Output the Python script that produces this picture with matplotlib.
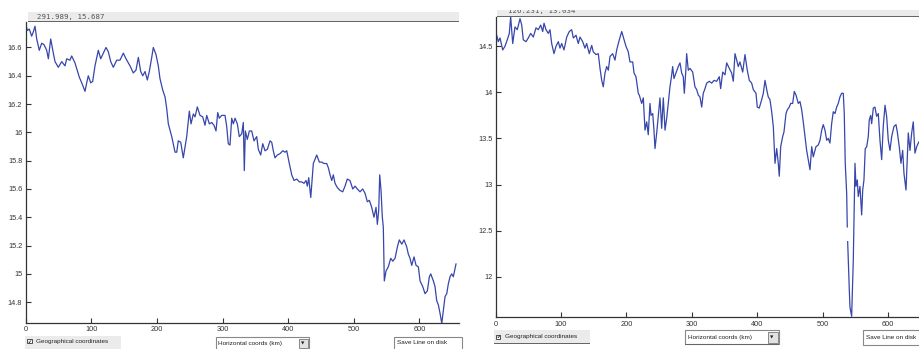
import numpy as np
import matplotlib
matplotlib.use("Agg")
import matplotlib.pyplot as plt
from matplotlib.patches import Rectangle

plt.rcParams['font.family'] = ['Liberation Sans', 'DejaVu Sans']

# profile 1: distance along track (km) and value
left_km = [0, 2.4, 5.5, 9.1, 11.6, 14.2, 16.8, 20.7, 24.4, 27.9, 32.0, 34.5, 38.1, 42.1, 44.7,
           49.7, 54.9, 59.9, 62.5, 67.5, 70.1, 75.2, 81.7, 85.4, 90.4, 93.0, 95.4, 99.1, 102.1,
           105.6, 110.7, 114.3, 118.3, 122.4, 125.9, 129.6, 133.5, 138.7, 143.7, 148.8, 152.9,
           159.0, 164.0, 168.1, 171.7, 175.3, 178.4, 181.9, 185.4, 188.4, 192.1, 194.5, 198.6,
           202.1, 204.7, 208.8, 212.4, 214.9, 217.4, 222.6, 227.6, 230.2, 232.6, 236.3, 240.2,
           245.4, 249.4, 252.0, 255.5, 258.1, 261.6, 265.7, 269.8, 273.3, 275.9, 279.9, 283.5,
           287.0, 290.1, 292.7, 295.1, 298.8, 303.8, 306.4, 308.8, 311.4, 314.0, 316.5, 319.1,
           322.6, 325.6, 329.3, 331.7, 333.2, 334.8, 337.8, 340.9, 344.5, 348.0, 352.1, 354.6,
           358.2, 361.3, 364.8, 368.3, 372.4, 375.0, 377.4, 380.0, 383.5, 387.7, 391.8, 395.3,
           397.9, 401.8, 405.5, 409.0, 413.1, 417.1, 420.7, 424.2, 427.3, 429.3, 431.4, 434.5,
           438.4, 441.0, 443.6, 447.6, 451.2, 454.7, 458.8, 461.3, 463.9, 466.5, 468.9, 471.5,
           475.0, 479.1, 483.2, 486.7, 490.2, 494.3, 498.5, 502.0, 505.5, 509.6, 513.7, 517.2,
           520.7, 523.8, 527.4, 530.9, 534.0, 536.0, 538.1, 539.6, 541.6, 543.6, 545.1, 546.6,
           549.2, 552.7, 556.4, 559.5, 563.0, 566.5, 569.5, 573.2, 576.7, 580.8, 583.2, 585.8,
           588.4, 591.9, 595.0, 598.5, 601.1, 605.2, 608.7, 612.2, 615.3, 617.4, 621.4, 623.9,
           626.5, 629.0, 631.6, 634.2, 636.6, 639.2, 641.8, 644.2, 646.8, 649.4, 651.8, 655.9]
left_val = [16.77, 16.72, 16.73, 16.68, 16.71, 16.75, 16.66, 16.58, 16.63, 16.62, 16.58, 16.52,
            16.66, 16.56, 16.50, 16.46, 16.50, 16.47, 16.52, 16.51, 16.54, 16.49, 16.39, 16.35,
            16.29, 16.35, 16.40, 16.35, 16.36, 16.47, 16.58, 16.52, 16.56, 16.60, 16.57, 16.50,
            16.46, 16.51, 16.51, 16.56, 16.52, 16.47, 16.42, 16.44, 16.53, 16.43, 16.40, 16.43,
            16.37, 16.43, 16.53, 16.60, 16.55, 16.47, 16.38, 16.30, 16.25, 16.17, 16.06, 15.97,
            15.86, 15.86, 15.94, 15.93, 15.82, 15.97, 16.15, 16.06, 16.13, 16.11, 16.18, 16.12,
            16.11, 16.05, 16.12, 16.06, 16.07, 16.05, 16.01, 16.14, 16.10, 16.12, 16.12, 16.04,
            15.92, 15.91, 16.10, 16.06, 16.10, 16.06, 15.97, 15.99, 16.07, 15.73, 16.01, 15.95,
            16.01, 16.01, 15.94, 15.97, 15.88, 15.84, 15.92, 15.87, 15.88, 15.94, 15.93, 15.87,
            15.82, 15.84, 15.85, 15.87, 15.86, 15.87, 15.78, 15.70, 15.66, 15.67, 15.65, 15.65,
            15.64, 15.66, 15.62, 15.68, 15.54, 15.78, 15.81, 15.84, 15.79, 15.79, 15.78, 15.78,
            15.75, 15.70, 15.66, 15.70, 15.64, 15.61, 15.59, 15.58, 15.62, 15.67, 15.66, 15.60,
            15.62, 15.60, 15.58, 15.60, 15.57, 15.51, 15.52, 15.47, 15.40, 15.47, 15.35, 15.45,
            15.70, 15.59, 15.40, 15.33, 14.95, 15.02, 15.05, 15.11, 15.09, 15.11, 15.19, 15.24,
            15.21, 15.24, 15.19, 15.14, 15.11, 15.06, 15.12, 15.06, 15.05, 14.95, 14.91, 14.86,
            14.88, 14.98, 15.00, 14.95, 14.91, 14.81, 14.78, 14.72, 14.65, 14.74, 14.84, 14.86,
            14.93, 14.98, 15.00, 14.98, 15.07]

# profile 2 (gap in the record near 537 km)
right_km = [0, 1.5, 4.0, 6.6, 10.7, 14.2, 17.7, 20.8, 22.9, 26.0, 29.5, 33.0, 37.2, 39.8, 42.2,
            46.3, 49.8, 53.5, 57.5, 61.6, 65.1, 68.8, 71.9, 73.9, 76.9, 80.4, 83.0, 85.6, 89.1,
            92.2, 95.7, 98.3, 100.9, 104.4, 108.6, 112.5, 116.2, 118.7, 122.8, 126.3, 128.9,
            133.0, 136.5, 139.1, 143.1, 146.8, 149.2, 153.4, 156.9, 159.5, 162.1, 164.5, 167.1,
            169.7, 172.2, 174.8, 178.9, 182.4, 185.0, 189.0, 192.7, 195.1, 199.2, 202.7, 205.3,
            209.5, 211.5, 214.5, 218.0, 219.6, 223.2, 225.7, 228.3, 230.9, 233.3, 235.9, 237.5,
            240.1, 242.0, 243.6, 246.2, 248.6, 251.2, 253.8, 256.3, 258.9, 261.5, 263.9, 266.5,
            269.1, 270.6, 272.6, 275.7, 279.2, 281.8, 284.4, 286.8, 288.4, 290.5, 292.0, 294.5,
            297.1, 301.2, 304.7, 307.3, 309.8, 312.4, 315.0, 317.4, 320.0, 322.6, 326.6, 330.3,
            333.8, 337.9, 341.9, 344.0, 347.1, 350.6, 353.2, 357.2, 360.8, 363.3, 365.9, 368.5,
            370.9, 373.5, 377.7, 381.2, 384.7, 387.8, 391.4, 393.9, 398.0, 400.0, 403.0, 406.7,
            409.2, 411.8, 414.4, 416.8, 419.4, 422.0, 424.5, 427.1, 429.7, 432.1, 433.6, 435.8,
            438.8, 440.8, 443.9, 445.9, 448.9, 451.1, 454.1, 456.6, 459.2, 462.7, 465.3, 467.9,
            470.3, 472.9, 475.5, 478.0, 480.6, 483.2, 485.6, 489.7, 493.3, 495.9, 498.5, 500.9,
            503.5, 506.1, 508.5, 511.1, 513.7, 516.2, 518.8, 521.4, 523.8, 526.4, 529.0, 531.5,
            533.0, 534.5, 536.7, 537.6, 537.9, 538.2, 539.1, 540.7, 541.7, 544.3, 546.8, 549.4,
            550.9, 552.9, 554.4, 557.0, 559.6, 561.2, 563.1, 565.1, 567.3, 569.7, 571.2, 573.4,
            574.9, 577.4, 579.9, 582.5, 585.0, 587.6, 590.2, 592.6, 595.3, 597.8, 600.3, 602.9,
            605.5, 609.0, 612.1, 614.1, 617.1, 619.7, 622.3, 624.3, 627.4, 629.3, 630.9, 633.5,
            636.1, 638.5, 641.1, 643.7, 646.2, 648.8]
right_val = [14.66, 14.62, 14.55, 14.59, 14.46, 14.50, 14.57, 14.64, 14.82, 14.53, 14.71, 14.68,
             14.80, 14.73, 14.57, 14.55, 14.59, 14.64, 14.60, 14.70, 14.68, 14.73, 14.66, 14.75,
             14.68, 14.64, 14.68, 14.53, 14.42, 14.50, 14.55, 14.48, 14.53, 14.46, 14.60, 14.66,
             14.68, 14.59, 14.62, 14.53, 14.60, 14.55, 14.48, 14.53, 14.42, 14.51, 14.44, 14.41,
             14.42, 14.26, 14.13, 14.06, 14.21, 14.28, 14.24, 14.39, 14.42, 14.35, 14.46, 14.57,
             14.66, 14.60, 14.50, 14.44, 14.33, 14.33, 14.21, 14.17, 13.99, 13.97, 13.88, 13.94,
             13.59, 13.68, 13.54, 13.88, 13.75, 13.77, 13.59, 13.39, 13.56, 13.74, 13.94, 13.61,
             13.94, 13.59, 13.72, 13.88, 14.06, 14.19, 14.28, 14.15, 14.21, 14.28, 14.32, 14.21,
             14.17, 13.99, 14.21, 14.42, 14.24, 14.26, 14.22, 14.06, 14.03, 13.97, 13.95, 13.84,
             13.99, 14.04, 14.10, 14.12, 14.10, 14.13, 14.12, 14.17, 14.04, 14.22, 14.19, 14.32,
             14.26, 14.21, 14.12, 14.42, 14.35, 14.28, 14.33, 14.22, 14.41, 14.24, 14.13, 14.10,
             14.03, 13.99, 13.84, 13.83, 13.92, 13.99, 14.13, 14.03, 13.95, 13.92, 13.79, 13.63,
             13.23, 13.39, 13.23, 13.09, 13.41, 13.52, 13.57, 13.77, 13.81, 13.84, 13.88, 13.88,
             14.01, 13.97, 13.88, 13.90, 13.81, 13.68, 13.52, 13.37, 13.27, 13.16, 13.41, 13.30,
             13.41, 13.43, 13.48, 13.59, 13.65, 13.59, 13.48, 13.50, 13.45, 13.66, 13.79, 13.77,
             13.84, 13.88, 13.95, 13.99, 13.99, 13.77, 13.23, 12.90, 12.54, np.nan, 12.38, 12.18,
             11.86, 11.67, 11.57, 12.18, 13.23, 12.98, 13.05, 12.87, 12.98, 12.67, 12.94, 13.05,
             13.39, 13.41, 13.52, 13.70, 13.75, 13.66, 13.83, 13.84, 13.74, 13.77, 13.48, 13.27,
             13.63, 13.86, 13.74, 13.48, 13.37, 13.52, 13.63, 13.65, 13.57, 13.41, 13.23, 13.37,
             13.12, 12.94, 13.27, 13.56, 13.37, 13.56, 13.68, 13.34, 13.41, 13.45, 13.48]

xticks = [0, 100, 200, 300, 400, 500, 600]
left_yticks = [14.8, 15, 15.2, 15.4, 15.6, 15.8, 16, 16.2, 16.4, 16.6]
right_yticks = [12, 12.5, 13, 13.5, 14, 14.5]
left_readout = '291.989, 15.687'
right_readout = '126.231, 13.034'

W, H = 920, 349
LINE = '#3646aa'
PANEL = '#ebebeb'
UI_SIZE = 4.6


def box(x0, y0, x1, y1):
    # pixel box (top-left origin) -> figure fraction rect
    return [x0 / W, 1 - y1 / H, (x1 - x0) / W, (y1 - y0) / H]


def rect(fig, x0, y0, x1, y1, fc, ec='none', lw=0.8):
    r = Rectangle((x0 / W, 1 - y1 / H), (x1 - x0) / W, (y1 - y0) / H,
                  transform=fig.transFigure, fc=fc, ec=ec, lw=lw)
    fig.patches.append(r)
    return r


def label(fig, x, y, s, size=UI_SIZE, **kw):
    return fig.text(x / W, 1 - y / H, s, fontsize=size, va='center', ha='left', **kw)


def fmt(v):
    return ('%g' % v)


fig = plt.figure(figsize=(9.2, 3.49), dpi=100)

axL = fig.add_axes(box(25.7, 22, 458.7, 322.7))
axL.plot(left_km, left_val, color=LINE, lw=0.9)
axL.set_xlim(0, 660)
axL.set_ylim(14.655, 16.78)
axL.set_yticks(left_yticks)
axL.set_yticklabels([fmt(v) for v in left_yticks])

axR = fig.add_axes(box(495.7, 16.7, 940.4, 317.3))
axR.plot(right_km, right_val, color=LINE, lw=0.9)
axR.set_xlim(0, 680)
axR.set_ylim(11.559, 14.821)
axR.set_yticks(right_yticks)
axR.set_yticklabels([fmt(v) for v in right_yticks])

for ax in (axL, axR):
    ax.set_xticks(xticks)
    ax.set_xticklabels([str(v) for v in xticks])
    ax.spines['top'].set_visible(False)
    ax.spines['right'].set_visible(False)
    for s in ('left', 'bottom'):
        ax.spines[s].set_color('#333333')
        ax.spines[s].set_linewidth(0.9)
    ax.tick_params(direction='in', length=3.5, width=0.8, labelsize=5.3,
                   colors='#333333', pad=2.5)

# coordinate readout bars
rect(fig, 28, 12.3, 459, 22, PANEL)
rect(fig, 28, 21.2, 459, 22.4, '#666666')
label(fig, 37, 17.2, left_readout, size=5.3, color='#555555', family='DejaVu Sans Mono')

rbar = rect(fig, 497, 10, 925, 16.7, PANEL)
rect(fig, 497, 15.9, 925, 17.0, '#666666')
t = label(fig, 508, 11.0, right_readout, size=5.3, color='#555555', family='DejaVu Sans Mono')
t.set_clip_path(rbar)

# controls under the left panel
rect(fig, 25, 336, 121, 352, PANEL)
rect(fig, 27.5, 339, 31.5, 343, 'white', '#333333', 0.6)
label(fig, 27.6, 341.2, '\u2714', size=3.5, color='#222222', family='DejaVu Sans')
label(fig, 36, 341.5, 'Geographical coordinates', color='#222222')

rect(fig, 215.7, 337, 309.3, 352, 'white', '#888888')
label(fig, 218, 343, 'Horizontal coords (km)', color='#222222')
rect(fig, 299, 338.5, 308, 348, '#e2e2e2', '#777777', 0.6)
label(fig, 300.5, 343.3, '\u25bc', size=3.2, color='#222222', family='DejaVu Sans')

rect(fig, 394.3, 337, 462, 352, 'white', '#888888')
label(fig, 397, 343, 'Save Line on disk', color='#222222')

# controls under the right panel
rect(fig, 494.3, 330, 590, 343.3, PANEL)
rect(fig, 494.3, 343.3, 590, 344.4, '#666666')
rect(fig, 496, 334.5, 500, 338.5, 'white', '#333333', 0.6)
label(fig, 496.1, 336.6, '\u2714', size=3.5, color='#222222', family='DejaVu Sans')
label(fig, 505, 336.8, 'Geographical coordinates', color='#222222')

rect(fig, 685, 330, 779.3, 343.5, 'white', '#888888')
rect(fig, 685, 343.5, 779.3, 344.5, '#666666')
label(fig, 688, 337, 'Horizontal coords (km)', color='#222222')
rect(fig, 768, 331.5, 778, 342.5, '#e2e2e2', '#777777', 0.6)
label(fig, 769.8, 337.2, '\u25bc', size=3.2, color='#222222', family='DejaVu Sans')

rect(fig, 863, 330, 925, 345, 'white', '#888888')
label(fig, 866, 337.5, 'Save Line on disk', color='#222222')

fig.savefig('out.png', dpi=100)
